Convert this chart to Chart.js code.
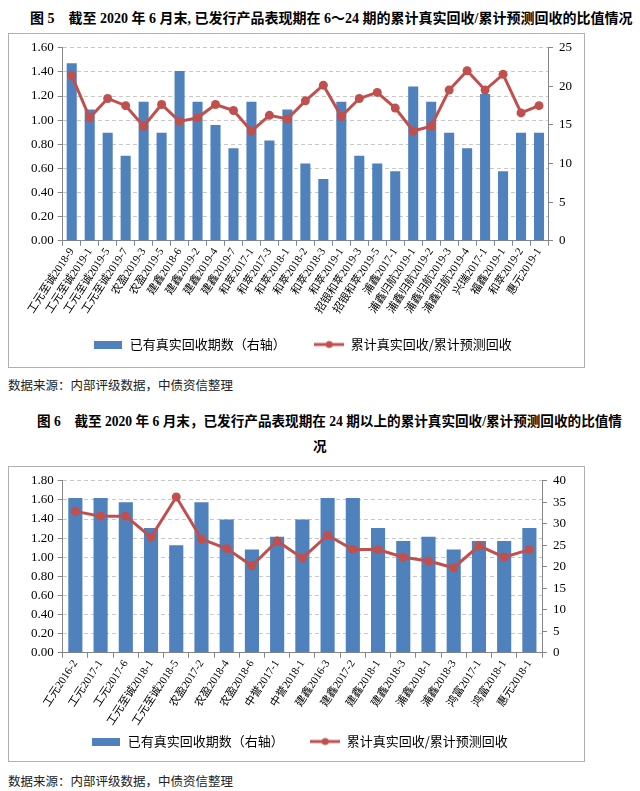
<!DOCTYPE html>
<html>
<head>
<meta charset="utf-8">
<title>累计真实回收/累计预测回收</title>
<script src="https://cdn.jsdelivr.net/npm/chart.js@4.4.0/dist/chart.umd.min.js"></script>
<style>
  body { margin: 0; background: #fff; font-family: "Liberation Serif", "Noto Sans CJK SC", serif; }
  .title { position: absolute; font-weight: bold; font-size: 14px; color: #000; white-space: nowrap; }
  .box { position: absolute; left: 8px; width: 577px; border: 1px solid #b0b0b0; box-sizing: border-box; }
  .src { position: absolute; left: 8px; font-size: 12.5px; color: #222; font-family: "Noto Sans CJK SC", serif; }
</style>
</head>
<body>

<div class="title" style="left:30px; top:7px;">图 5　截至 2020 年 6 月末, 已发行产品表现期在 6～24 期的累计真实回收/累计预测回收的比值情况</div>
<div class="box" style="top:33px; height:335px;"><canvas id="fig5"></canvas></div>
<div class="src" style="top:375px;">数据来源：内部评级数据，中债资信整理</div>

<div class="title" style="left:37px; top:410px; font-size:13.6px;">图 6　截至 2020 年 6 月末，已发行产品表现期在 24 期以上的累计真实回收/累计预测回收的比值情</div>
<div class="title" style="left:313px; top:435px; font-size:13.6px;">况</div>
<div class="box" style="top:466px; height:296px;"><canvas id="fig6"></canvas></div>
<div class="src" style="top:771px;">数据来源：内部评级数据，中债资信整理</div>

<script>
// figure 5: 6~24 periods
var labels5 = ['工元至诚2018-9', '工元至诚2019-1', '工元至诚2019-5', '工元至诚2019-7', '农盈2019-3', '农盈2019-5',
  '建鑫2018-6', '建鑫2019-2', '建鑫2019-4', '建鑫2019-7', '和萃2017-1', '和萃2017-3', '和萃2018-1', '和萃2018-2',
  '和萃2018-3', '和萃2019-1', '招银和萃2019-3', '招银和萃2019-5', '浦鑫2017-1', '浦鑫归航2019-1', '浦鑫归航2019-2',
  '浦鑫归航2019-3', '浦鑫归航2019-4', '兴瑞2017-1', '福鑫2019-1', '和萃2019-2', '惠元2019-1'];
var periods5 = [23, 17, 14, 11, 18, 14, 22, 18, 15, 12, 18, 13, 17, 10, 8, 18, 11, 10, 9, 20, 18, 14, 12, 19, 9, 14, 14];
var ratio5 = [1.37, 1.02, 1.18, 1.12, 0.95, 1.13, 0.99, 1.02, 1.13, 1.08, 0.91, 1.04, 1.01, 1.16, 1.29,
  1.03, 1.18, 1.23, 1.10, 0.91, 0.95, 1.25, 1.41, 1.25, 1.38, 1.06, 1.12];
var leftTicks5 = [0, 1.6, 0.2];
var rightTicks5 = [0, 25, 5];

// figure 6: more than 24 periods
var labels6 = ['工元2016-2', '工元2017-1', '工元2017-6', '工元至诚2018-1', '工元至诚2018-5', '农盈2017-2', '农盈2018-4',
  '农盈2018-6', '中誉2017-1', '中誉2018-1', '建鑫2016-3', '建鑫2017-2', '建鑫2018-1', '建鑫2018-3', '浦鑫2018-1',
  '浦鑫2018-3', '鸿富2017-1', '鸿富2018-1', '惠元2018-1'];
var periods6 = [36, 36, 35, 29, 25, 35, 31, 24, 27, 31, 36, 36, 29, 26, 27, 24, 26, 26, 29];
var ratio6 = [1.48, 1.43, 1.43, 1.21, 1.63, 1.19, 1.09, 0.91, 1.17, 0.99, 1.23, 1.08, 1.08, 1.00, 0.96, 0.89, 1.12, 1.00, 1.08];
var leftTicks6 = [0, 1.8, 0.2];
var rightTicks6 = [0, 40, 5];

var BLUE = '#4F81BD';
var RED = '#C0504D';
var NUM_FONT = "'Liberation Serif', serif";
var CJK_FONT = "'Noto Sans CJK SC', sans-serif";

// little icons for the legend: a blue block, and a red line with a dot
function barIcon() {
  var c = document.createElement('canvas');
  c.width = 28; c.height = 8;
  var g = c.getContext('2d');
  g.fillStyle = BLUE;
  g.fillRect(0, 0, 28, 8);
  return c;
}
function lineIcon() {
  var c = document.createElement('canvas');
  c.width = 30; c.height = 10;
  var g = c.getContext('2d');
  g.strokeStyle = RED; g.lineWidth = 3;
  g.beginPath(); g.moveTo(0, 5); g.lineTo(30, 5); g.stroke();
  g.fillStyle = RED;
  g.beginPath(); g.arc(15, 5, 3.5, 0, Math.PI * 2); g.fill();
  return c;
}

// opts: layout padding, legend padding, extra gap after first legend item
function makeChart(id, labels, periods, ratio, leftT, rightT, opts) {
  var icons = [barIcon(), lineIcon()];
  var texts = ['已有真实回收期数（右轴）' + opts.gap, '累计真实回收/累计预测回收'];
  return new Chart(document.getElementById(id), {
    type: 'bar',
    data: {
      labels: labels,
      datasets: [{
        type: 'bar',
        label: '已有真实回收期数（右轴）',
        data: periods,
        yAxisID: 'yR',
        backgroundColor: BLUE,
        barPercentage: 0.56,
        categoryPercentage: 1,
        order: 2
      }, {
        type: 'line',
        label: '累计真实回收/累计预测回收',
        data: ratio,
        yAxisID: 'yL',
        borderColor: RED,
        backgroundColor: RED,
        borderWidth: 3,
        pointRadius: 4.5,
        pointBackgroundColor: RED,
        pointBorderWidth: 0,
        tension: 0,
        order: 1
      }]
    },
    options: {
      responsive: false,
      animation: false,
      layout: { padding: opts.pad },
      plugins: {
        tooltip: { enabled: false },
        legend: {
          position: 'bottom',
          labels: {
            usePointStyle: true,
            pointStyleWidth: 30,
            padding: opts.legendPad,
            color: '#000',
            font: { family: CJK_FONT, size: 13 },
            generateLabels: function (chart) {
              return chart.data.datasets.map(function (ds, i) {
                return { text: texts[i], pointStyle: icons[i], datasetIndex: i, lineWidth: 0, hidden: false };
              });
            }
          }
        }
      },
      scales: {
        x: {
          grid: { display: true, drawOnChartArea: false, tickLength: 5, color: '#868686' },
          border: { color: '#868686' },
          ticks: { minRotation: 57, maxRotation: 57, autoSkip: false, color: '#000', padding: 0,
            font: { family: NUM_FONT + ", 'Noto Sans CJK SC'", size: 11 } }
        },
        yL: {
          position: 'left',
          min: leftT[0], max: leftT[1],
          grid: { color: '#c8c8c8', tickColor: '#868686', tickLength: 5 },
          border: { color: '#868686', dash: [4, 3] },
          ticks: { stepSize: leftT[2], autoSkip: false, color: '#000', padding: 4, font: { family: NUM_FONT, size: 13 },
            callback: function (v) { return v.toFixed(2); } }
        },
        yR: {
          position: 'right',
          min: rightT[0], max: rightT[1],
          grid: { drawOnChartArea: false, tickColor: '#868686', tickLength: 5 },
          border: { color: '#868686' },
          ticks: { stepSize: rightT[2], autoSkip: false, color: '#000', padding: 6, font: { family: NUM_FONT, size: 13 } }
        }
      }
    }
  });
}

var c5 = document.getElementById('fig5');
c5.width = 575; c5.height = 333;
makeChart('fig5', labels5, periods5, ratio5, leftTicks5, rightTicks5,
  { pad: { left: 18, right: 6, top: 2, bottom: 6 }, legendPad: 22, gap: '　' });

var c6 = document.getElementById('fig6');
c6.width = 575; c6.height = 294;
makeChart('fig6', labels6, periods6, ratio6, leftTicks6, rightTicks6,
  { pad: { left: 18, right: 12, top: 12, bottom: 3 }, legendPad: 7, gap: '　　' });
</script>
</body>
</html>
